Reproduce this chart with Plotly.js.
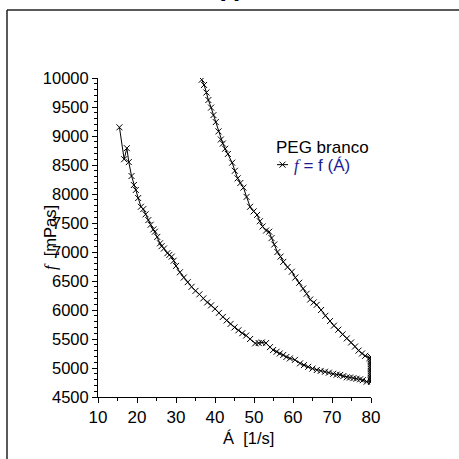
<!DOCTYPE html>
<html>
<head>
<meta charset="utf-8">
<script src="https://cdn.plot.ly/plotly-3.0.1.min.js"></script>
<style>html,body{margin:0;padding:0;background:#fff;}#chart{width:459px;height:459px;}</style>
</head>
<body>
<div id="chart"></div>
<script>
const shearRate = [
  36.6, 37.2, 37.8, 38.3, 39.0, 39.6, 40.2, 40.9, 41.5, 42.0, 42.6, 43.3, 44.4, 45.1, 45.8, 46.5, 47.3, 48.1, 49.0, 49.9,
  50.8, 51.5, 52.2, 53.1, 53.9, 54.5, 55.2, 56.0, 56.8, 57.5, 58.6, 59.7, 60.6, 61.6, 62.6, 63.5, 64.4, 65.3, 66.1, 67.2,
  68.3, 69.5, 70.5, 71.6, 72.7, 73.8, 74.9, 75.9, 76.8, 77.7, 78.5, 79.6,
  80, 80, 80, 80, 80, 80, 80, 80, 80, 80, 80, 80, 80, 80, 80, 80,
  78.9, 77.9, 77.2, 76.3, 75.5, 74.6, 73.8, 72.9, 72.1, 71.2, 70.3, 69.2, 68.2, 67.1, 66.1, 65.0, 63.9, 62.8, 61.8, 60.5,
  59.2, 58.3, 57.5, 56.6, 55.8, 54.9, 54.1, 53.1, 52.0, 51.2, 50.3, 49.0, 48.0, 47.0, 46.0, 45.0, 44.0, 43.0, 42.0, 41.0,
  40.0, 39.0, 38.0, 37.0, 36.0, 35.0, 34.0, 33.0, 32.0, 31.0, 30.0, 29.4, 28.9, 28.3, 27.8, 26.9, 26.3, 25.9, 25.2, 24.6,
  24.2, 23.5, 22.9, 22.2, 21.6, 21.0, 20.3, 19.7, 19.2, 18.6, 17.9, 17.4, 16.7, 15.5
];
const viscosity = [
  9970, 9880, 9750, 9620, 9490, 9360, 9240, 9080, 8940, 8870, 8780, 8690, 8540, 8400, 8270, 8190, 8110, 7950, 7780, 7700,
  7640, 7530, 7440, 7370, 7350, 7240, 7130, 7000, 6920, 6830, 6740, 6660, 6560, 6470, 6370, 6280, 6180, 6130, 6090, 6000,
  5900, 5810, 5730, 5660, 5580, 5510, 5440, 5370, 5300, 5250, 5210, 5170,
  5190, 5160, 5130, 5100, 5070, 5040, 5010, 4980, 4950, 4920, 4890, 4860, 4830, 4800, 4780, 4760,
  4765, 4790, 4805, 4815, 4825, 4835, 4840, 4860, 4880, 4885, 4900, 4920, 4935, 4950, 4965, 4990, 5020, 5050, 5080, 5140,
  5165, 5190, 5225, 5250, 5280, 5310, 5360, 5430, 5440, 5430, 5425, 5500, 5560, 5600, 5650, 5700, 5760, 5820, 5880, 5950,
  6020, 6080, 6130, 6200, 6270, 6330, 6400, 6480, 6560, 6650, 6760, 6850, 6920, 6950, 6980, 7060, 7100, 7150, 7260, 7350,
  7390, 7470, 7550, 7650, 7740, 7780, 7930, 8070, 8155, 8310, 8550, 8790, 8600, 9150
];
const xTickVals = [10, 20, 30, 40, 50, 60, 70, 80];
const yTickVals = [4500, 5000, 5500, 6000, 6500, 7000, 7500, 8000, 8500, 9000, 9500, 10000];
const yTickText = ['4500', '5000', '5500', '6000', '6500', '7000', '7500', '8000', '8500', '9000', '9500', '10000'];
const chartTitle = '<b>A</b>';
const legendTitle = 'PEG branco';
const seriesName = '<span style="font-family:\'Liberation Serif\';font-style:italic">f</span> = f (Á)';
const xTitle = 'Á  [1/s]';
const yTitle = '<span style="font-family:\'Liberation Serif\';font-style:italic">f</span>  [mPas]';

// plot area in pixels
const W = 459, H = 459, L = 98, R = 371, T = 78, B = 397;
const px = x => (x - L) / (R - L);
const py = y => (B - y) / (B - T);

const trace = {
  x: shearRate, y: viscosity, type: 'scatter', mode: 'lines+markers',
  name: seriesName,
  line: {color: '#000', width: 1},
  marker: {symbol: 'x-thin', size: 6, line: {color: '#000', width: 1}, color: '#000'}
};

const font = {family: 'Liberation Sans, Arial, sans-serif', color: '#000'};
const layout = {
  width: W, height: H,
  margin: {l: L, r: W - R, t: T, b: H - B, pad: 0},
  paper_bgcolor: '#fff', plot_bgcolor: '#fff',
  font: font,
  title: {text: chartTitle, font: {size: 26, color: '#000', family: 'Liberation Sans, Arial, sans-serif'},
          x: 230 / W, xanchor: 'center', xref: 'container', yref: 'container', y: 1 - 0.5 / H, yanchor: 'bottom'},
  showlegend: true,
  legend: {x: px(274), y: py(131), xanchor: 'left', yanchor: 'top', bgcolor: 'rgba(0,0,0,0)',
           title: {text: legendTitle, font: {size: 17, color: '#000'}},
           font: {size: 17, color: '#1c1c96'}, itemwidth: 30, tracegroupgap: 0},
  xaxis: {range: [10, 80], tickvals: xTickVals, showgrid: false, zeroline: false,
          showline: true, linecolor: '#000', linewidth: 1, ticks: 'outside', ticklen: 5, tickcolor: '#000',
          tickfont: {size: 17, color: '#000'},
          minor: {dtick: 5, tick0: 10, ticks: 'outside', ticklen: 3, tickcolor: '#000', showgrid: false}},
  yaxis: {range: [4500, 10000], tickvals: yTickVals, ticktext: yTickText, showgrid: false, zeroline: false,
          showline: true, linecolor: '#000', linewidth: 1, ticks: 'outside', ticklen: 5, tickcolor: '#000',
          tickfont: {size: 16.5, color: '#000'},
          minor: {dtick: 100, tick0: 4500, ticks: 'outside', ticklen: 3, tickcolor: '#000', showgrid: false}},
  annotations: [
    {text: xTitle, xref: 'paper', yref: 'paper', x: px(248), y: py(438), xanchor: 'center', yanchor: 'middle',
     showarrow: false, font: {size: 16.5, color: '#000'}},
    {text: yTitle, xref: 'paper', yref: 'paper', x: px(51), y: py(238), xanchor: 'center', yanchor: 'middle',
     textangle: -90, showarrow: false, font: {size: 16.5, color: '#000'}}
  ],
  shapes: [
    {type: 'line', xref: 'paper', yref: 'paper', x0: px(7), x1: px(W + 2), y0: py(10), y1: py(10), line: {color: '#222', width: 1.5}},
    {type: 'line', xref: 'paper', yref: 'paper', x0: px(7), x1: px(7), y0: py(10), y1: py(H + 2), line: {color: '#222', width: 1.5}}
  ]
};

Plotly.newPlot('chart', [trace], layout, {staticPlot: true, displayModeBar: false}).then(gd => {
  // compact legend sample, tighter line spacing as in the reference
  gd.querySelectorAll('.legend .traces').forEach(t => {
    const ln = t.querySelector('.legendlines path');
    if (ln) ln.setAttribute('d', 'M3,0h11');
    t.querySelectorAll('.legendpoints path').forEach(p => p.setAttribute('transform', 'translate(8.5,0)'));
    const tx = t.querySelector('text.legendtext');
    if (tx) {
      tx.setAttribute('x', 20);
      tx.querySelectorAll('tspan[x]').forEach(s => s.setAttribute('x', 20));
    }
    const tr = t.getAttribute('transform') || '';
    const m = tr.match(/translate\(\s*([-\d.]+)[ ,]+([-\d.]+)\s*\)/);
    if (m) t.setAttribute('transform', 'translate(' + m[1] + ',' + (parseFloat(m[2]) - 6) + ')');
  });
});
</script>
</body>
</html>
